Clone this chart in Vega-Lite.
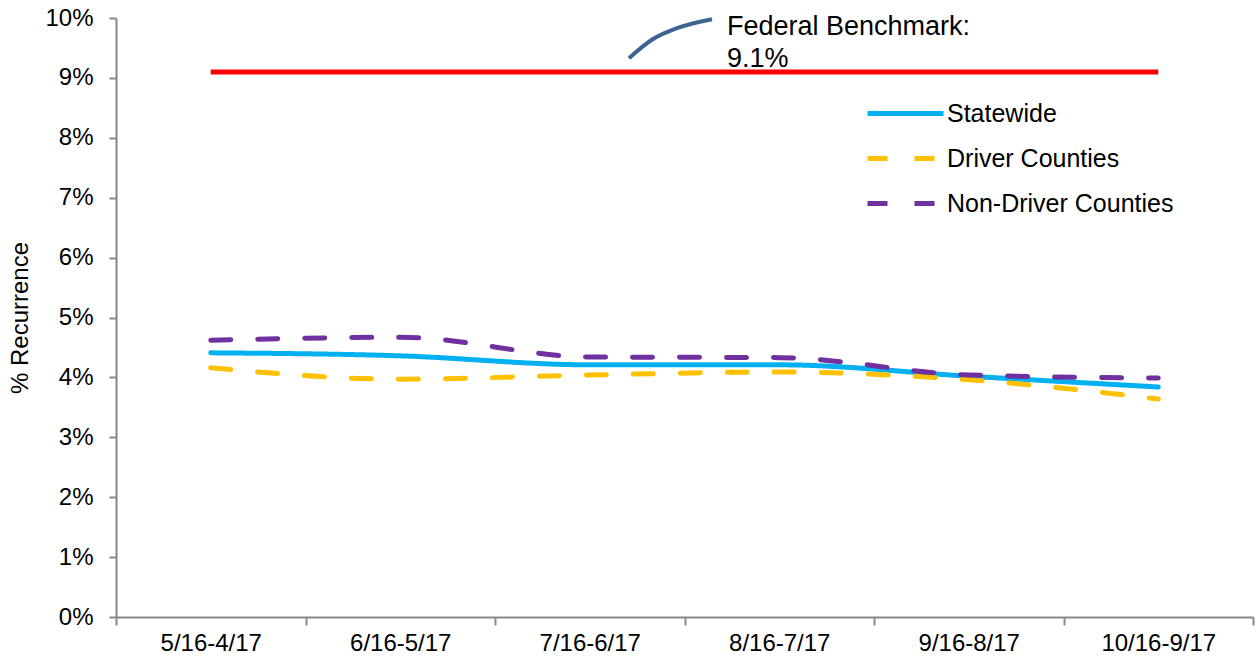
{
  "$schema": "https://vega.github.io/schema/vega-lite/v6.json",
  "width": 1137,
  "height": 599,
  "autosize": "none",
  "padding": {"left": 116, "top": 18, "right": 3, "bottom": 45},
  "background": "white",
  "config": {
    "view": {"stroke": null},
    "font": "Liberation Sans",
    "axis": {"domainColor": "#888888", "tickColor": "#888888", "domainWidth": 2, "tickWidth": 2, "grid": false, "labelColor": "#000000", "labelFont": "Liberation Sans", "labelFontSize": 24, "titleFont": "Liberation Sans", "titleFontWeight": "normal", "titleColor": "#000000"},
    "legend": {"labelFont": "Liberation Sans", "labelFontSize": 25, "labelColor": "#000000", "labelLimit": 400}
  },
  "datasets": {
    "series": [
      {"period": "5/16-4/17", "series": "Statewide", "value": 4.41},
      {"period": "6/16-5/17", "series": "Statewide", "value": 4.36},
      {"period": "7/16-6/17", "series": "Statewide", "value": 4.21},
      {"period": "8/16-7/17", "series": "Statewide", "value": 4.21},
      {"period": "9/16-8/17", "series": "Statewide", "value": 4.02},
      {"period": "10/16-9/17", "series": "Statewide", "value": 3.84},
      {"period": "5/16-4/17", "series": "Driver Counties", "value": 4.16},
      {"period": "6/16-5/17", "series": "Driver Counties", "value": 3.97},
      {"period": "7/16-6/17", "series": "Driver Counties", "value": 4.04},
      {"period": "8/16-7/17", "series": "Driver Counties", "value": 4.09},
      {"period": "9/16-8/17", "series": "Driver Counties", "value": 3.96},
      {"period": "10/16-9/17", "series": "Driver Counties", "value": 3.64},
      {"period": "5/16-4/17", "series": "Non-Driver Counties", "value": 4.62},
      {"period": "6/16-5/17", "series": "Non-Driver Counties", "value": 4.67},
      {"period": "7/16-6/17", "series": "Non-Driver Counties", "value": 4.34},
      {"period": "8/16-7/17", "series": "Non-Driver Counties", "value": 4.33},
      {"period": "9/16-8/17", "series": "Non-Driver Counties", "value": 4.04},
      {"period": "10/16-9/17", "series": "Non-Driver Counties", "value": 3.99}
    ],
    "benchmark": [
      {"period": "5/16-4/17", "value": 9.1},
      {"period": "10/16-9/17", "value": 9.1}
    ],
    "leader": [
      {"pos": 2.707, "value": 9.33},
      {"pos": 2.834, "value": 9.65},
      {"pos": 2.960, "value": 9.83},
      {"pos": 3.145, "value": 9.98}
    ],
    "note": [
      {"pos": 3.224, "value": 10.06, "label": "Federal Benchmark:\n9.1%"}
    ]
  },
  "layer": [
    {
      "layer": [
        {
          "data": {"name": "series"},
          "mark": {"type": "line", "strokeWidth": 5, "interpolate": "monotone", "strokeCap": "round"},
          "encoding": {
            "x": {"field": "period", "type": "nominal", "sort": null,
                  "scale": {"paddingInner": 0, "paddingOuter": 0},
                  "axis": {"title": null, "labelAngle": 0, "tickBand": "extent", "tickSize": 8, "labelPadding": 6}},
            "y": {"field": "value", "type": "quantitative",
                  "scale": {"domain": [0, 10], "nice": false},
                  "axis": {"title": "% Recurrence", "titleFontSize": 24, "titlePadding": 12, "values": [0,1,2,3,4,5,6,7,8,9,10], "labelOverlap": false, "labelExpr": "datum.value + '%'", "tickSize": 7, "labelPadding": 16}},
            "color": {"field": "series", "type": "nominal",
                      "scale": {"domain": ["Statewide", "Driver Counties", "Non-Driver Counties"], "range": ["#00B0F0", "#FFC000", "#7030A0"]},
                      "legend": {"title": null, "orient": "none", "legendX": 768, "legendY": 74, "symbolType": "M-2,0H2", "symbolSize": 1444, "symbolStrokeWidth": 5, "symbolFillColor": "transparent", "rowPadding": 10, "labelOffset": 20, "padding": 0}},
            "strokeDash": {"field": "series", "type": "nominal",
                      "scale": {"domain": ["Statewide", "Driver Counties", "Non-Driver Counties"], "range": [[1, 0], [20, 27], [20, 27]]},
                      "legend": {"title": null, "orient": "none", "legendX": 768, "legendY": 74, "symbolType": "M-2,0H2", "symbolSize": 1444, "symbolStrokeWidth": 5, "symbolFillColor": "transparent", "rowPadding": 10, "labelOffset": 20, "padding": 0}}
          }
        },
        {
          "data": {"name": "benchmark"},
          "mark": {"type": "line", "color": "#FF0000", "strokeWidth": 5},
          "encoding": {
            "x": {"field": "period", "type": "nominal", "sort": null},
            "y": {"field": "value", "type": "quantitative"}
          }
        }
      ]
    },
    {
      "layer": [
        {
          "data": {"name": "leader"},
          "mark": {"type": "line", "color": "#3C6491", "strokeWidth": 4, "interpolate": "monotone"},
          "encoding": {
            "x": {"field": "pos", "type": "quantitative", "scale": {"domain": [0, 6], "nice": false, "zero": false}, "axis": null},
            "y": {"field": "value", "type": "quantitative"}
          }
        },
        {
          "data": {"name": "note"},
          "mark": {"type": "text", "align": "left", "baseline": "top", "fontSize": 27, "lineBreak": "\n", "lineHeight": 32, "font": "Liberation Sans", "color": "#000000"},
          "encoding": {
            "x": {"field": "pos", "type": "quantitative", "scale": {"domain": [0, 6], "nice": false, "zero": false}, "axis": null},
            "y": {"field": "value", "type": "quantitative"},
            "text": {"field": "label"}
          }
        }
      ]
    }
  ],
  "resolve": {"scale": {"x": "independent"}}
}
